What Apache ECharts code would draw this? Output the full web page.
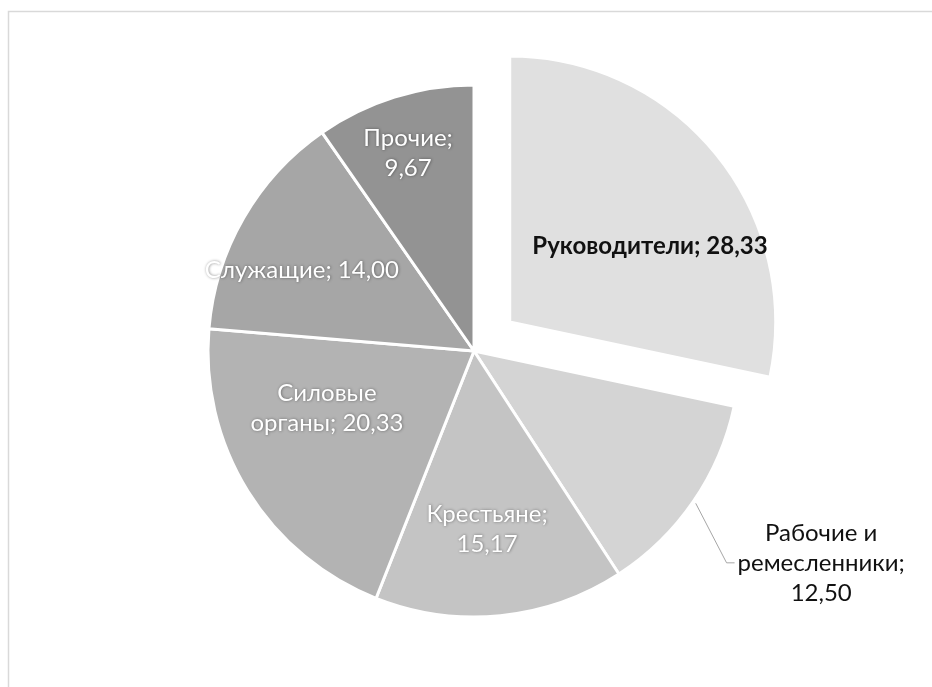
<!DOCTYPE html>
<html><head><meta charset="utf-8">
<script src="https://cdn.jsdelivr.net/npm/echarts@6/dist/echarts.min.js"></script>
<style>html,body{margin:0;padding:0;background:#fff}#c{width:932px;height:687px}</style>
</head><body><div id="c"></div>
<script>
const categories = ['Руководители', 'Рабочие и ремесленники', 'Крестьяне', 'Силовые органы', 'Служащие', 'Прочие'];
const values = [28.33, 12.50, 15.17, 20.33, 14.00, 9.67];
const colors = ['#e0e0e0', '#d4d4d4', '#c4c4c4', '#b3b3b3', '#a6a6a6', '#939393'];
// label placement (style only): angular turn (deg) from the slice bisector and radius fraction
const labelTurn = [10.5, -3.1, 1.5, 10.6, -4.8, -1.0];
const labelRadius = [0.600, 1.529, 0.671, 0.593, 0.715, 0.785];

const CX = 474, CY = 351, R = 266, OFFSET = 46;
const FONT = 'Lato, "Open Sans", sans-serif';
const EXPLODED = 0;

function fmt(v) { return v.toFixed(2).replace('.', ','); }
function labelText(i) {
  const n = categories[i], v = fmt(values[i]);
  if (i === 0 || i === 4) return n + '; ' + v;
  if (i === 1) { const k = n.lastIndexOf(' '); return n.slice(0, k) + '\n' + n.slice(k + 1) + ';\n' + v; }
  if (i === 3) { const k = n.indexOf(' '); return n.slice(0, k) + '\n' + n.slice(k + 1) + '; ' + v; }
  return n + ';\n' + v;
}
const total = values.reduce((a, b) => a + b, 0);
function midFrac(i) { let b = 0; for (let k = 0; k < i; k++) b += values[k]; return (b + values[i] / 2) / total; }

function labelLayout(p) {
  const i = p.dataIndex;
  const m = midFrac(i);
  let cx = CX, cy = CY;
  if (i === EXPLODED) {
    const e = m * 2 * Math.PI;
    cx += OFFSET * Math.sin(e); cy -= OFFSET * Math.cos(e);
  }
  const a = (m * 360 + labelTurn[i]) * Math.PI / 180;
  const x = cx + labelRadius[i] * R * Math.sin(a);
  const y = cy - labelRadius[i] * R * Math.cos(a);
  const out = { x: x, y: y, align: 'center', verticalAlign: 'middle' };
  if (i === 1) {
    const b = m * 2 * Math.PI;
    const ex = CX + (R + 3) * Math.sin(b), ey = CY - (R + 3) * Math.cos(b);
    const left = x - p.labelRect.width / 2;
    out.labelLinePoints = [[ex, ey], [left - 11, y], [left - 3, y]];
  }
  return out;
}

const whiteLabel = {
  color: '#ffffff', textShadowColor: 'rgba(0,0,0,0.45)', textShadowBlur: 3,
  textShadowOffsetX: 0.5, textShadowOffsetY: 0.5
};

const data = categories.map((name, i) => {
  const item = { name: name, value: values[i], itemStyle: { color: colors[i] } };
  if (i === EXPLODED) {
    item.selected = true;
    item.label = { show: false };
    item.labelLine = { show: false };
  } else if (i === 1) {
    item.label = { position: 'outside', color: '#111111' };
    item.labelLine = { show: true, length: 20, length2: 10, lineStyle: { color: '#a6a6a6', width: 1 } };
  } else {
    item.label = Object.assign({ position: 'inside' }, whiteLabel);
    item.labelLine = { show: false };
  }
  return item;
});

// transparent twin series carrying only the exploded slice's label
const labelData = categories.map((name, i) => ({
  name: name, value: values[i],
  label: i === EXPLODED
    ? { show: true, position: 'inside', color: '#111111', fontWeight: 'bold' }
    : { show: false },
  labelLine: { show: false }
}));

const baseLabel = {
  show: true, fontFamily: FONT, fontSize: 24, lineHeight: 30, align: 'center',
  formatter: p => labelText(p.dataIndex)
};

const chart = echarts.init(document.getElementById('c'), null, { renderer: 'canvas' });
chart.setOption({
  animation: false,
  backgroundColor: '#ffffff',
  graphic: [{
    type: 'polyline', silent: true,
    shape: { points: [[8.5, 687], [8.5, 11.5], [932, 11.5]] },
    style: { stroke: '#d9d9d9', lineWidth: 1.5, fill: null }
  }],
  series: [{
    type: 'pie',
    center: [CX, CY],
    radius: [0, R],
    startAngle: 90,
    clockwise: true,
    selectedMode: 'single',
    selectedOffset: OFFSET,
    avoidLabelOverlap: false,
    padAngle: 0,
    itemStyle: { borderColor: '#ffffff', borderWidth: 3 },
    emphasis: { disabled: true },
    label: baseLabel,
    labelLayout: labelLayout,
    data: data
  }, {
    type: 'pie',
    silent: true,
    z: 3,
    center: [CX, CY],
    radius: [0, R],
    startAngle: 90,
    clockwise: true,
    avoidLabelOverlap: false,
    itemStyle: { color: 'rgba(0,0,0,0)', borderWidth: 0 },
    emphasis: { disabled: true },
    label: baseLabel,
    labelLayout: labelLayout,
    data: labelData
  }]
});
</script>
</body></html>
